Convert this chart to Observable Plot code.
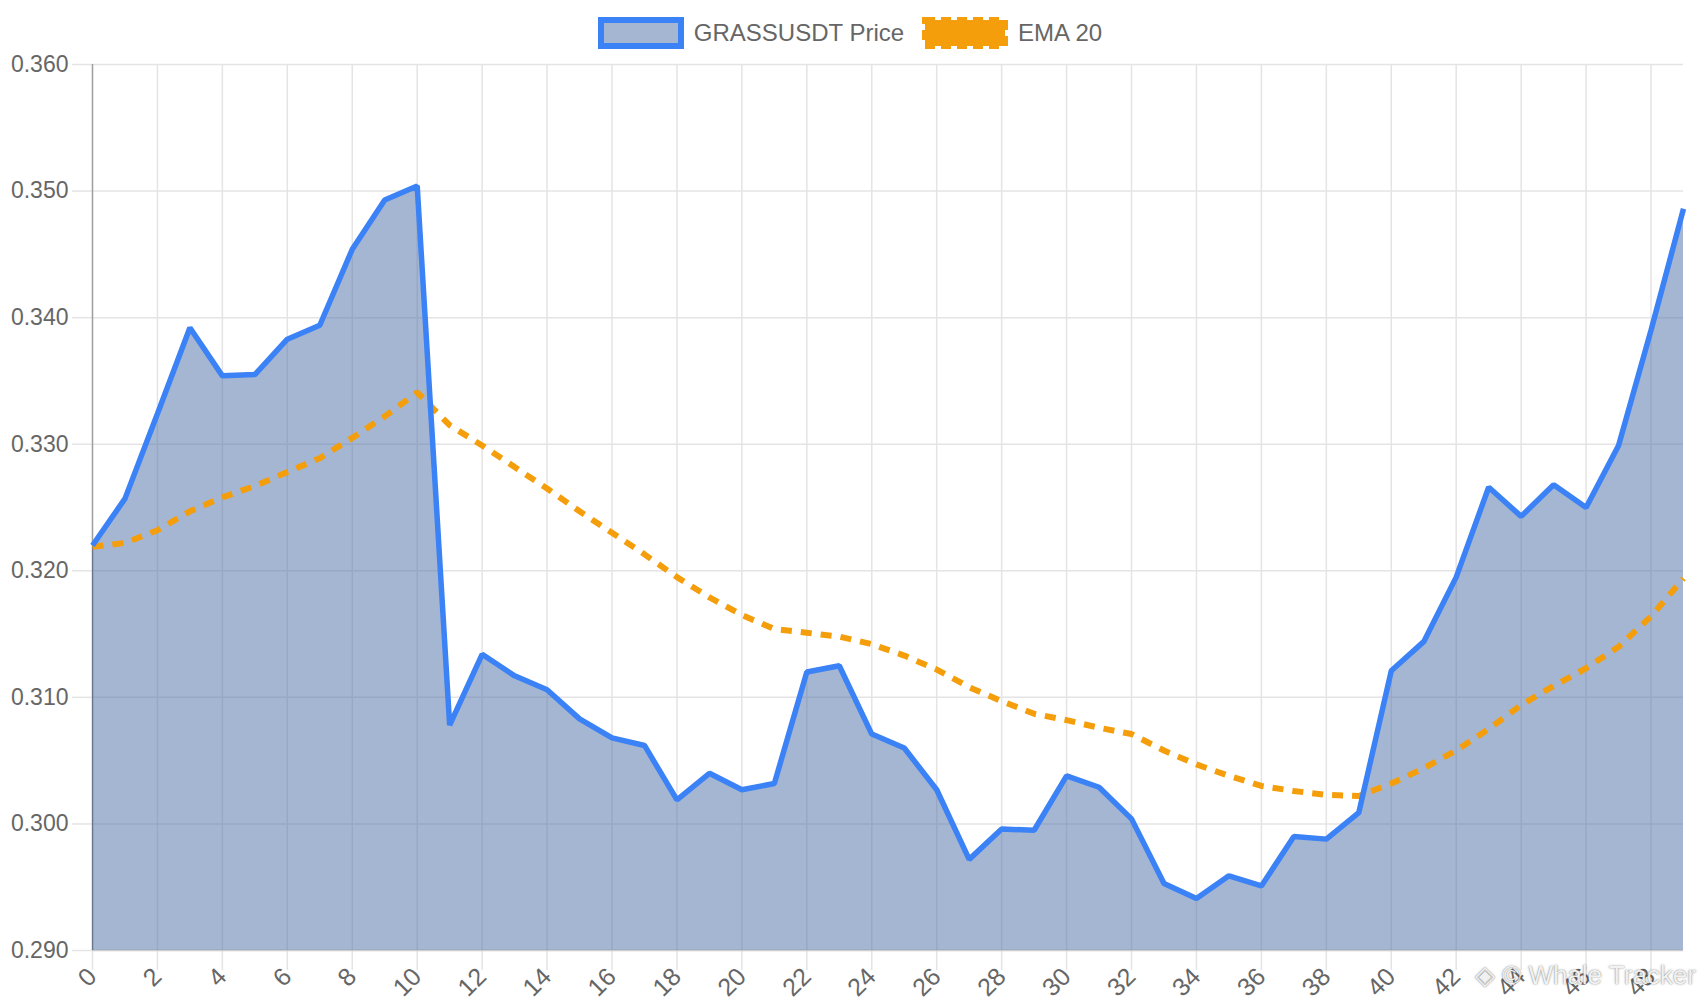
<!DOCTYPE html>
<html>
<head>
<meta charset="utf-8">
<script src="https://cdn.jsdelivr.net/npm/d3@7"></script>
<script src="https://cdn.jsdelivr.net/npm/@observablehq/plot@0.6"></script>
<style>
  html, body { margin: 0; padding: 0; background: #fff; }
  body { width: 1700px; height: 1000px; position: relative; overflow: hidden;
         font-family: "Liberation Sans", Arial, Helvetica, sans-serif; }
  #legend { height: 50px; box-sizing: border-box; padding-top: 16px;
            display: flex; justify-content: center; align-items: center; }
  .item { display: flex; align-items: center; height: 32px; margin: 0 9px; }
  .item span { font-size: 24px; color: #666; margin-left: 10px; line-height: 32px; }
  #watermark { position: absolute; right: 4px; top: 960px; font-size: 26px;
               color: rgba(255,255,255,0.92);
               text-shadow: 0 0 1px rgba(0,0,0,0.5), 0 0 3px rgba(0,0,0,0.25);
               white-space: nowrap; pointer-events: none; }
</style>
</head>
<body>
<div id="legend"></div>
<div id="chart"></div>
<div id="watermark">◈ © Whale Tracker</div>
<script>
// ---- data ----
const seriesNames = ["GRASSUSDT Price", "EMA 20"];
const price = [0.3220, 0.3257, 0.3324, 0.3392, 0.3354, 0.3355, 0.3383, 0.3394, 0.3454, 0.3493,
               0.3504, 0.3078, 0.3134, 0.3117, 0.3106, 0.3083, 0.3068, 0.3062, 0.3019, 0.3040,
               0.3027, 0.3032, 0.3120, 0.3125, 0.3071, 0.3060, 0.3027, 0.2972, 0.2996, 0.2995,
               0.3038, 0.3029, 0.3004, 0.2953, 0.2941, 0.2959, 0.2951, 0.2990, 0.2988, 0.3009,
               0.3121, 0.3144, 0.3195, 0.3266, 0.3243, 0.3268, 0.3250, 0.3299, 0.3390, 0.3486];
const ema20 = [0.3219, 0.3222, 0.3232, 0.3247, 0.3258, 0.3267, 0.3278, 0.3289, 0.3305, 0.3322,
               0.3341, 0.3315, 0.3299, 0.3282, 0.3265, 0.3247, 0.3230, 0.3213, 0.3195, 0.3179,
               0.3165, 0.3154, 0.3151, 0.3148, 0.3142, 0.3133, 0.3122, 0.3108, 0.3097, 0.3087,
               0.3082, 0.3076, 0.3071, 0.3058, 0.3047, 0.3038, 0.3030, 0.3026, 0.3023, 0.3022,
               0.3032, 0.3044, 0.3058, 0.3075, 0.3094, 0.3109, 0.3123, 0.3140, 0.3164, 0.3194];
const xTicks = [0, 2, 4, 6, 8, 10, 12, 14, 16, 18, 20, 22, 24, 26, 28, 30, 32, 34, 36, 38, 40, 42, 44, 46, 48];
const yTicks = [0.29, 0.30, 0.31, 0.32, 0.33, 0.34, 0.35, 0.36];
const yDomain = [0.29, 0.36];

const data = price.map((p, i) => ({i, price: p, ema: ema20[i]}));

// ---- styles ----
const blue = "#3b82f6";
const orange = "#f59e0b";
const fillColor = "rgb(75,110,165)";
const gridColor = "#e4e4e4";
const font = "\"Liberation Sans\", Arial, Helvetica, sans-serif";

// ---- legend ----
const legend = document.getElementById("legend");
legend.innerHTML = `
  <div class="item">
    <svg width="86" height="32"><rect x="3" y="3" width="80" height="26" fill="${fillColor}" fill-opacity="0.5" stroke="${blue}" stroke-width="6"/></svg>
    <span>${seriesNames[0]}</span>
  </div>
  <div class="item">
    <svg width="86" height="32"><rect x="3" y="3" width="80" height="26" fill="${orange}" stroke="${orange}" stroke-width="6" stroke-dasharray="10,6"/></svg>
    <span>${seriesNames[1]}</span>
  </div>`;

// ---- chart ----
const chart = Plot.plot({
  width: 1700,
  height: 950,
  marginTop: 14,
  marginBottom: 50,
  marginLeft: 92,
  marginRight: 17,
  style: {fontFamily: font, fontSize: "23px", background: "transparent"},
  x: {domain: [0, price.length - 1], axis: null, label: null},
  y: {domain: yDomain, axis: null, label: null},
  marks: [
    Plot.gridY(yTicks, {stroke: gridColor, strokeOpacity: 1, strokeWidth: 1.5}),
    Plot.gridX(xTicks, {stroke: gridColor, strokeOpacity: 1, strokeWidth: 1.5}),
    Plot.axisY(yTicks, {anchor: "left", label: null, tickSize: 20, tickPadding: 4, tickFormat: d3.format(".3f"),
                        stroke: gridColor, strokeWidth: 1.5, fill: "#666", fontSize: 23}),
    Plot.axisX(xTicks, {anchor: "bottom", label: null, tickSize: 20, tickPadding: 2, tickRotate: -45,
                        stroke: gridColor, strokeWidth: 1.5, fill: "#666", fontSize: 25}),
    Plot.areaY(data, {x: "i", y1: () => yDomain[0], y2: "price", fill: fillColor, fillOpacity: 0.5}),
    Plot.ruleX([0], {stroke: "#000", strokeOpacity: 0.3, strokeWidth: 1.5}),
    Plot.ruleY([yDomain[0]], {stroke: "#000", strokeOpacity: 0.1, strokeWidth: 1.5}),
    Plot.line(data, {x: "i", y: "ema", stroke: orange, strokeWidth: 6, strokeDasharray: "11,9",
                     strokeLinejoin: "miter", strokeLinecap: "butt"}),
    Plot.line(data, {x: "i", y: "price", stroke: blue, strokeWidth: 5.5,
                     strokeLinejoin: "miter", strokeLinecap: "butt"})
  ]
});
document.getElementById("chart").appendChild(chart);
</script>
</body>
</html>
